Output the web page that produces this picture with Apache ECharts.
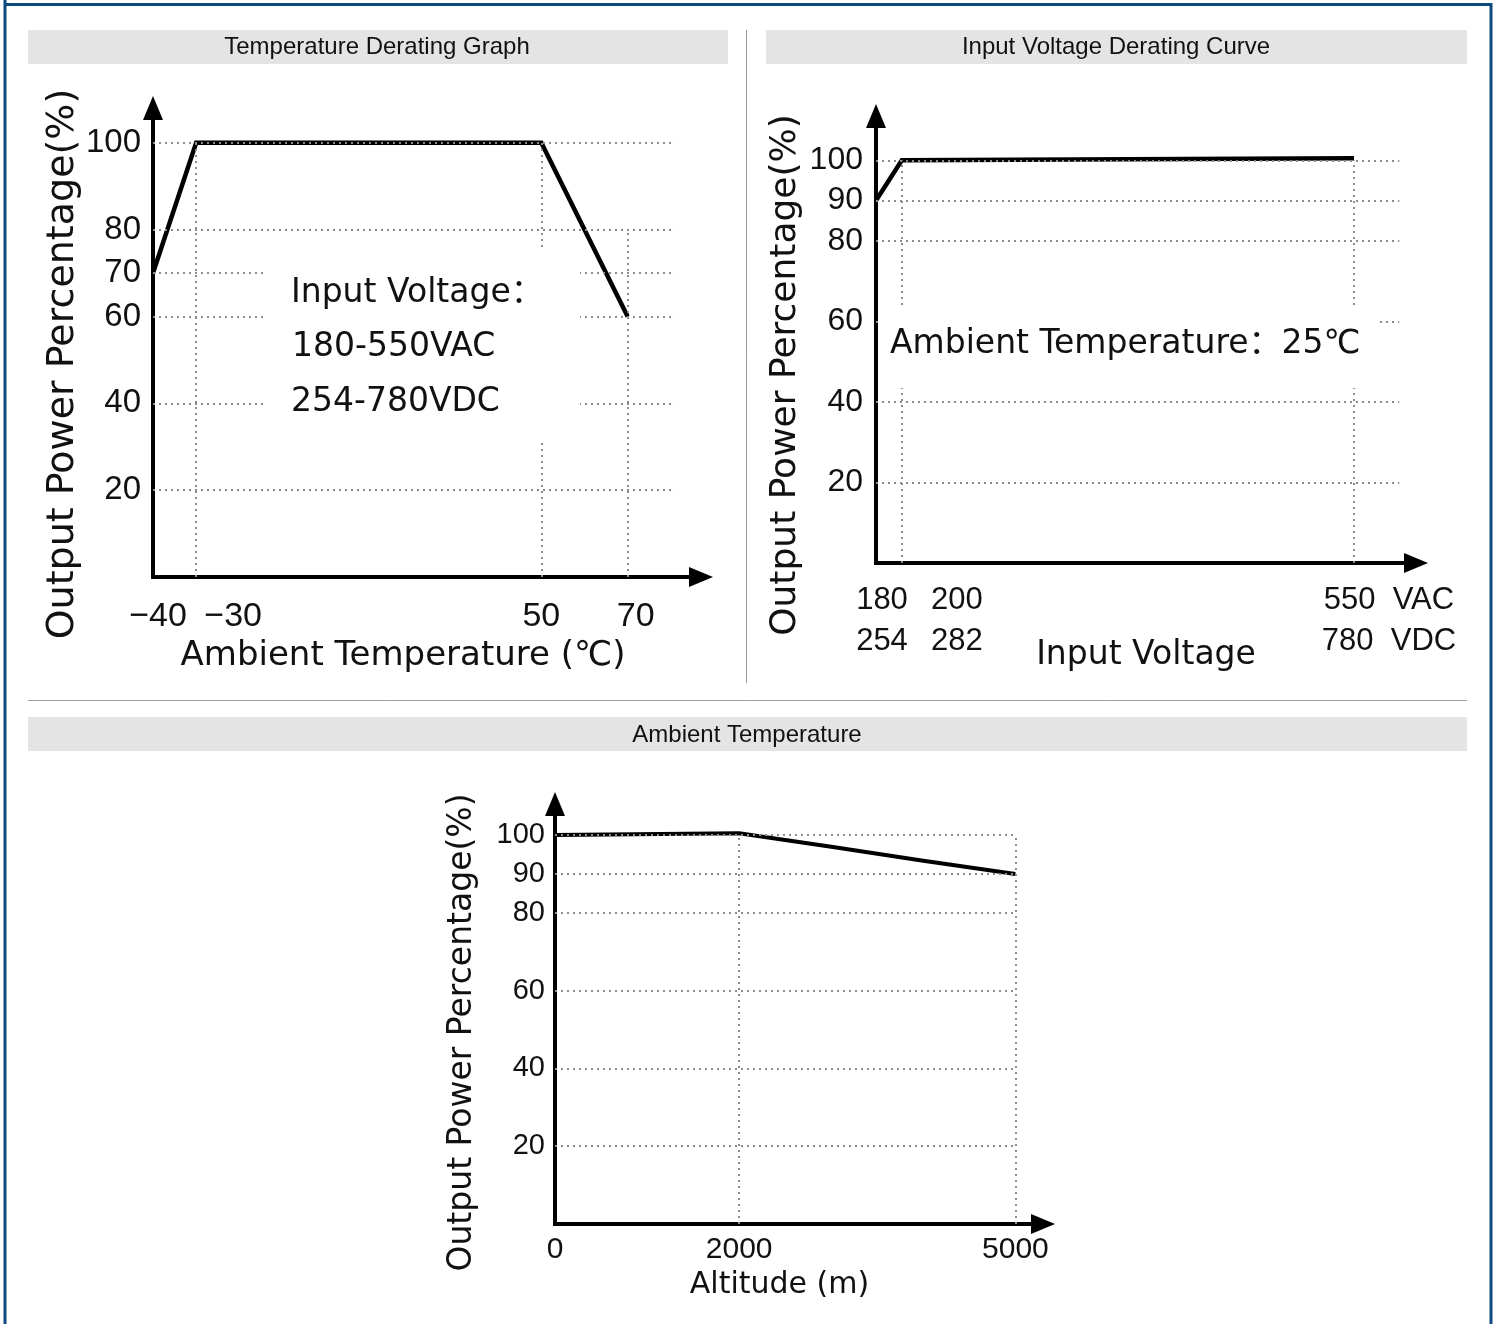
<!DOCTYPE html>
<html>
<head>
<meta charset="utf-8">
<script src="https://cdn.jsdelivr.net/npm/echarts@6/dist/echarts.min.js"></script>
<style>
html, body { margin: 0; padding: 0; background: #fff; }
#main { width: 1497px; height: 1324px; }
</style>
</head>
<body>
<div id="main"></div>
<script>
// ---------- DATA ----------
// Chart 1: Temperature Derating Graph
const tempC = [-40, -30, 50, 70];
const tempPower = [70, 100, 100, 60];
const tempXTicks = [-40, -30, 50, 70];
const tempYTicks = [20, 40, 60, 70, 80, 100];
const tempVGrid = [-30, 50, 70];
const tempVGridTop = [100, 100, 80];
const tempNote = ['Input Voltage：', '180-550VAC', '254-780VDC'];

// Chart 2: Input Voltage Derating Curve
const voltAC = [180, 200, 550];
const voltPower = [90, 100, 100.5];
const voltXTicks = [180, 200, 550];
const voltDCTicks = [254, 282, 780];
const voltYTicks = [20, 40, 60, 80, 90, 100];
const voltVGrid = [200, 550];
const voltNote = 'Ambient Temperature：25℃';

// Chart 3: Altitude derating
const altitude = [0, 2000, 3000, 4000, 5000];
const altPower = [100, 100.5, 97, 93.4, 90];
const altXTicks = [0, 2000, 5000];
const altYTicks = [20, 40, 60, 80, 90, 100];
const altVGrid = [2000, 5000];

const titles = ['Temperature Derating Graph', 'Input Voltage Derating Curve', 'Ambient Temperature'];
const yName = 'Output Power Percentage(%)';
const xNames = ['Ambient Temperature (℃)', 'Input Voltage', 'Altitude (m)'];

// ---------- STYLE ----------
const NUM = "'Liberation Sans', Arial, sans-serif";
const GEO = "'DejaVu Sans', 'Noto Sans CJK SC', sans-serif";
const INK = '#111';
const GRIDC = '#8c8c8c';
const BLUE = '#0f4a7e';

function axisLine() {
  return {
    show: true, onZero: false,
    symbol: ['none', 'triangle'], symbolSize: [20, 24],
    lineStyle: { color: '#000', width: 4, cap: 'square' }
  };
}

function yAxisDef(gi, max, ticks, fs, margin, nameFs, nameGap, nameShift) {
  return {
    gridIndex: gi, type: 'value', min: 0, max: max,
    axisLine: axisLine(), axisTick: { show: false }, splitLine: { show: false },
    axisLabel: { customValues: ticks, fontSize: fs, fontFamily: NUM, color: INK, margin: margin, hideOverlap: false },
    name: yName, nameLocation: 'middle', nameGap: nameGap, nameMoveOverlap: false,
    nameTextStyle: { fontSize: nameFs, fontFamily: GEO, color: INK, padding: [0, nameShift * 2, 0, 0] }
  };
}

function gridLines(gi, xs, ys, hVals, xFrom, xTo, vVals, vTops) {
  const lines = [];
  hVals.forEach(v => lines.push([{ coord: [xFrom, v] }, { coord: [xTo, v] }]));
  vVals.forEach((v, i) => lines.push([{ coord: [v, 0] }, { coord: [v, vTops[i]] }]));
  return {
    type: 'line', xAxisIndex: gi, yAxisIndex: gi, z: 1, silent: true,
    data: xs.map((x, i) => [x, ys[i]]), symbol: 'none',
    lineStyle: { opacity: 0 },
    markLine: {
      silent: true, symbol: ['none', 'none'], label: { show: false },
      emphasis: { disabled: true }, animation: false,
      lineStyle: { color: GRIDC, width: 2, type: [2, 4] },
      data: lines
    }
  };
}

function dataLine(gi, xs, ys, w) {
  return {
    type: 'line', xAxisIndex: gi, yAxisIndex: gi, z: 3, silent: true,
    data: xs.map((x, i) => [x, ys[i]]), symbol: 'none',
    lineStyle: { color: '#000', width: w, join: 'miter' }
  };
}

const minus = v => (v < 0 ? '\u2212' + Math.abs(v) : String(v));

// label nudges (style only)
const tempLabelPad = [10, 74, 0, 16];
const voltLabelPad = [12, 110, 70];

const tempRich = {};
tempLabelPad.forEach((p, i) => {
  tempRich['t' + i] = { fontSize: 34, fontFamily: NUM, color: INK, padding: [0, 0, 0, p] };
});
const voltRich = {};
voltLabelPad.forEach((p, i) => {
  voltRich['v' + i] = { fontSize: 31, fontFamily: NUM, color: INK, lineHeight: 41, padding: [0, 0, 0, p] };
});

function voltFormatter(v) {
  const i = voltXTicks.indexOf(v);
  const last = i === voltXTicks.length - 1;
  const a = last ? v + '  VAC' : String(v);
  const b = last ? voltDCTicks[i] + '  VDC' : String(voltDCTicks[i]);
  return '{v' + i + '|' + a + '}\n{v' + i + '|' + b + '}';
}
// the voltage ticks are split over two stacked axes so the close labels do not hide each other
const voltTicksA = voltXTicks.filter((v, i) => i % 2 === 0);
const voltTicksB = voltXTicks.filter((v, i) => i % 2 === 1);

const option = {
  animation: false,
  backgroundColor: '#fff',
  textStyle: { fontFamily: NUM },
  grid: [
    { left: 153, top: 108, width: 548, height: 469, outerBoundsMode: 'none', containLabel: false },
    { left: 876, top: 116, width: 540, height: 447, outerBoundsMode: 'none', containLabel: false },
    { left: 555, top: 804, width: 488, height: 420, outerBoundsMode: 'none', containLabel: false }
  ],
  xAxis: [
    {
      gridIndex: 0, type: 'value', min: -40, max: 87,
      axisLine: axisLine(), axisTick: { show: false }, splitLine: { show: false },
      axisLabel: {
        customValues: tempXTicks, margin: 23, rich: tempRich, hideOverlap: false,
        showMinLabel: true, showMaxLabel: true,
        formatter: v => '{t' + tempXTicks.indexOf(v) + '|' + minus(v) + '}'
      },
      name: xNames[0], nameLocation: 'middle', nameGap: 62, nameMoveOverlap: false,
      nameTextStyle: { fontSize: 34, fontFamily: GEO, color: INK, padding: [0, 48, 0, 0] }
    },
    {
      gridIndex: 1, type: 'value', min: 180, max: 598, position: 'bottom',
      axisLine: axisLine(), axisTick: { show: false }, splitLine: { show: false },
      axisLabel: {
        customValues: voltTicksA, margin: 17, rich: voltRich, hideOverlap: false,
        showMinLabel: true, showMaxLabel: true, formatter: voltFormatter
      },
      name: xNames[1], nameLocation: 'middle', nameGap: 76, nameMoveOverlap: false,
      nameTextStyle: { fontSize: 33, fontFamily: GEO, color: INK }
    },
    {
      gridIndex: 2, type: 'value', min: 0, max: 5300,
      axisLine: axisLine(), axisTick: { show: false }, splitLine: { show: false },
      axisLabel: {
        customValues: altXTicks, fontSize: 30, fontFamily: NUM, color: INK, margin: 11,
        hideOverlap: false, formatter: v => String(v)
      },
      name: xNames[2], nameLocation: 'middle', nameGap: 46, nameMoveOverlap: false,
      nameTextStyle: { fontSize: 30, fontFamily: GEO, color: INK, padding: [0, 39, 0, 0] }
    },
    {
      gridIndex: 1, type: 'value', min: 180, max: 598, position: 'bottom', offset: 0,
      axisLine: { show: false }, axisTick: { show: false }, splitLine: { show: false },
      axisLabel: {
        customValues: voltTicksB, margin: 17, rich: voltRich, hideOverlap: false,
        showMinLabel: true, showMaxLabel: true, formatter: voltFormatter
      }
    }
  ],
  yAxis: [
    yAxisDef(0, 108, tempYTicks, 33, 12, 38, 71, 21.5),
    yAxisDef(1, 111, voltYTicks, 32, 13, 36, 72, 35.5),
    yAxisDef(2, 108, altYTicks, 29, 10, 33, 76, 18.5)
  ],
  series: [
    gridLines(0, tempC, tempPower, tempYTicks, -40, 81, tempVGrid, tempVGridTop),
    dataLine(0, tempC, tempPower, 4.5),
    gridLines(1, voltAC, voltPower, voltYTicks, 180, 585, voltVGrid, voltVGrid.map(() => 100)),
    dataLine(1, voltAC, voltPower, 4.5),
    gridLines(2, altitude, altPower, altYTicks, 0, 5000, altVGrid, altVGrid.map(() => 100)),
    dataLine(2, altitude, altPower, 4)
  ],
  graphic: [
    // frame
    { type: 'line', silent: true, z: 20, shape: { x1: 5, y1: 0, x2: 5, y2: 1324 }, style: { stroke: BLUE, lineWidth: 3 } },
    { type: 'line', silent: true, z: 20, shape: { x1: 4, y1: 4.5, x2: 1492, y2: 4.5 }, style: { stroke: BLUE, lineWidth: 3 } },
    { type: 'line', silent: true, z: 20, shape: { x1: 1491, y1: 3, x2: 1491, y2: 1324 }, style: { stroke: BLUE, lineWidth: 3 } },
    // separators
    { type: 'line', silent: true, z: 20, shape: { x1: 746.5, y1: 30, x2: 746.5, y2: 683 }, style: { stroke: '#9a9a9a', lineWidth: 1 } },
    { type: 'line', silent: true, z: 20, shape: { x1: 28, y1: 700.5, x2: 1467, y2: 700.5 }, style: { stroke: '#a0a0a0', lineWidth: 1 } },
    // title bars
    { type: 'rect', silent: true, z: 20, shape: { x: 28, y: 30, width: 700, height: 34 }, style: { fill: '#e4e4e4' } },
    { type: 'rect', silent: true, z: 20, shape: { x: 766, y: 30, width: 701, height: 34 }, style: { fill: '#e4e4e4' } },
    { type: 'rect', silent: true, z: 20, shape: { x: 28, y: 717, width: 1439, height: 34 }, style: { fill: '#e4e4e4' } },
    { type: 'text', silent: true, z: 21, x: 377, y: 47, style: { text: titles[0], fontSize: 24, fontFamily: NUM, fill: INK, textAlign: 'center', textVerticalAlign: 'middle' } },
    { type: 'text', silent: true, z: 21, x: 1116, y: 47, style: { text: titles[1], fontSize: 24, fontFamily: NUM, fill: INK, textAlign: 'center', textVerticalAlign: 'middle' } },
    { type: 'text', silent: true, z: 21, x: 747, y: 735, style: { text: titles[2], fontSize: 24, fontFamily: NUM, fill: INK, textAlign: 'center', textVerticalAlign: 'middle' } },
    // annotation chart 1
    { type: 'rect', silent: true, z: 10, shape: { x: 265, y: 250, width: 315, height: 190 }, style: { fill: '#fff' } },
    { type: 'text', silent: true, z: 11, x: 291, y: 293, style: { text: tempNote[0], fontSize: 33, fontFamily: GEO, fill: INK, textAlign: 'left', textVerticalAlign: 'middle' } },
    { type: 'text', silent: true, z: 11, x: 292, y: 347, style: { text: tempNote[1], fontSize: 33, fontFamily: GEO, fill: INK, textAlign: 'left', textVerticalAlign: 'middle' } },
    { type: 'text', silent: true, z: 11, x: 291, y: 402, style: { text: tempNote[2], fontSize: 33, fontFamily: GEO, fill: INK, textAlign: 'left', textVerticalAlign: 'middle' } },
    // annotation chart 2
    { type: 'rect', silent: true, z: 10, shape: { x: 880, y: 305, width: 496, height: 83 }, style: { fill: '#fff' } },
    { type: 'text', silent: true, z: 11, x: 890, y: 344, style: { text: voltNote, fontSize: 33, fontFamily: GEO, fill: INK, textAlign: 'left', textVerticalAlign: 'middle' } }
  ]
};

const chart = echarts.init(document.getElementById('main'), null, { renderer: 'canvas', width: 1497, height: 1324 });
chart.setOption(option);
</script>
</body>
</html>
